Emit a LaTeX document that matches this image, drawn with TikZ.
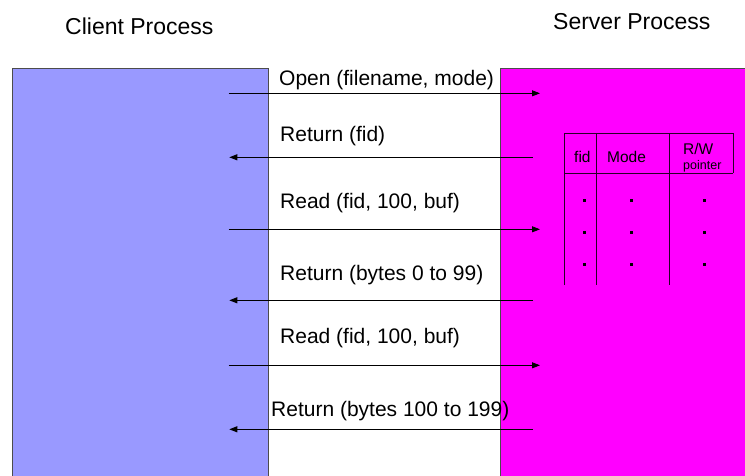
\documentclass[tikz,border=0pt]{standalone}
\usepackage{fontspec}
\setmainfont{Liberation Sans}
\usetikzlibrary{arrows.meta}
\definecolor{clientfill}{HTML}{9999FF}
\definecolor{serverfill}{HTML}{FF00FF}
\tikzset{
  procbox/.style={draw=black!70, line width=1pt},
  title/.style={anchor=base west, inner sep=0pt, font=\fontsize{23}{27}\selectfont},
  msg/.style={anchor=base west, inner sep=0pt, font=\fontsize{21}{25}\selectfont},
  msgarrow/.style={line width=0.9pt, -{Triangle[length=8pt,width=6pt]}},
  tabline/.style={line width=1pt, draw=black!85!serverfill},
  hdr/.style={anchor=base west, inner sep=0pt, font=\fontsize{15.5}{18}\selectfont},
  hdrsmall/.style={anchor=base west, inner sep=0pt, font=\fontsize{12.5}{15}\selectfont},
  tabdot/.style={fill=black, draw=none, minimum size=3pt, inner sep=0pt, rectangle}
}
\begin{document}
\begin{tikzpicture}[x=1pt, y=-1pt]
\useasboundingbox (0,0) rectangle (745,475);
\clip (0,0) rectangle (745,475);

% process columns
\fill[clientfill] (12.7,68.7) rectangle (268,490);
\draw[procbox] (12.7,490) -- (12.7,68.7) -- (268,68.7) -- (268,490);
\fill[serverfill] (500.7,68.7) rectangle (760,490);
\draw[procbox] (500.7,490) -- (500.7,68.7) -- (760,68.7);

% titles
\node[title] (client) at (65,34) {Client Process};
\node[title] (server) at (553,29) {Server Process};

% message labels
\node[msg] (m1) at (279,85) {Open (filename, mode)};
\node[msg] (m2) at (280,141) {Return (fid)};
\node[msg] (m3) at (280,208) {Read (fid, 100, buf)};
\node[msg] (m4) at (280,280) {Return (bytes 0 to 99)};
\node[msg] (m5) at (280,343) {Read (fid, 100, buf)};
\node[msg] (m6) at (271,416) {Return (bytes 100 to 199)};

% message arrow end points
\coordinate (c1) at (228.5,93.3);  \coordinate (s1) at (540,93.3);
\coordinate (c2) at (229.3,157.3); \coordinate (s2) at (533,157.3);
\coordinate (c3) at (228.5,229.3); \coordinate (s3) at (540,229.3);
\coordinate (c4) at (229.3,300.3); \coordinate (s4) at (533,300.3);
\coordinate (c5) at (228.5,365.3); \coordinate (s5) at (540,365.3);
\coordinate (c6) at (229.3,429.3); \coordinate (s6) at (533,429.3);

\draw[msgarrow] (c1) -- (s1);
\draw[msgarrow] (s2) -- (c2);
\draw[msgarrow] (c3) -- (s3);
\draw[msgarrow] (s4) -- (c4);
\draw[msgarrow] (c5) -- (s5);
\draw[msgarrow] (s6) -- (c6);

% file table on the server
\draw[tabline] (564.7,285) -- (564.7,133.3) -- (733,133.3) -- (733,173.3);
\draw[tabline] (564.7,173.3) -- (733,173.3);
\draw[tabline] (596.7,133.3) -- (596.7,285);
\draw[tabline] (669,133.3) -- (669,285);

\node[hdr] (hfid) at (574,162) {fid};
\node[hdr] (hmode) at (607,162) {Mode};
\node[hdr] (hrw) at (683,154) {R/W};
\node[hdrsmall] (hptr) at (683,169.3) {pointer};

\foreach \y [count=\i] in {200.7,232.7,264.7} {
  \node[tabdot] (dfid\i) at (584,\y) {};
  \node[tabdot] (dmode\i) at (631.7,\y) {};
  \node[tabdot] (drw\i) at (704,\y) {};
}
\end{tikzpicture}
\end{document}
